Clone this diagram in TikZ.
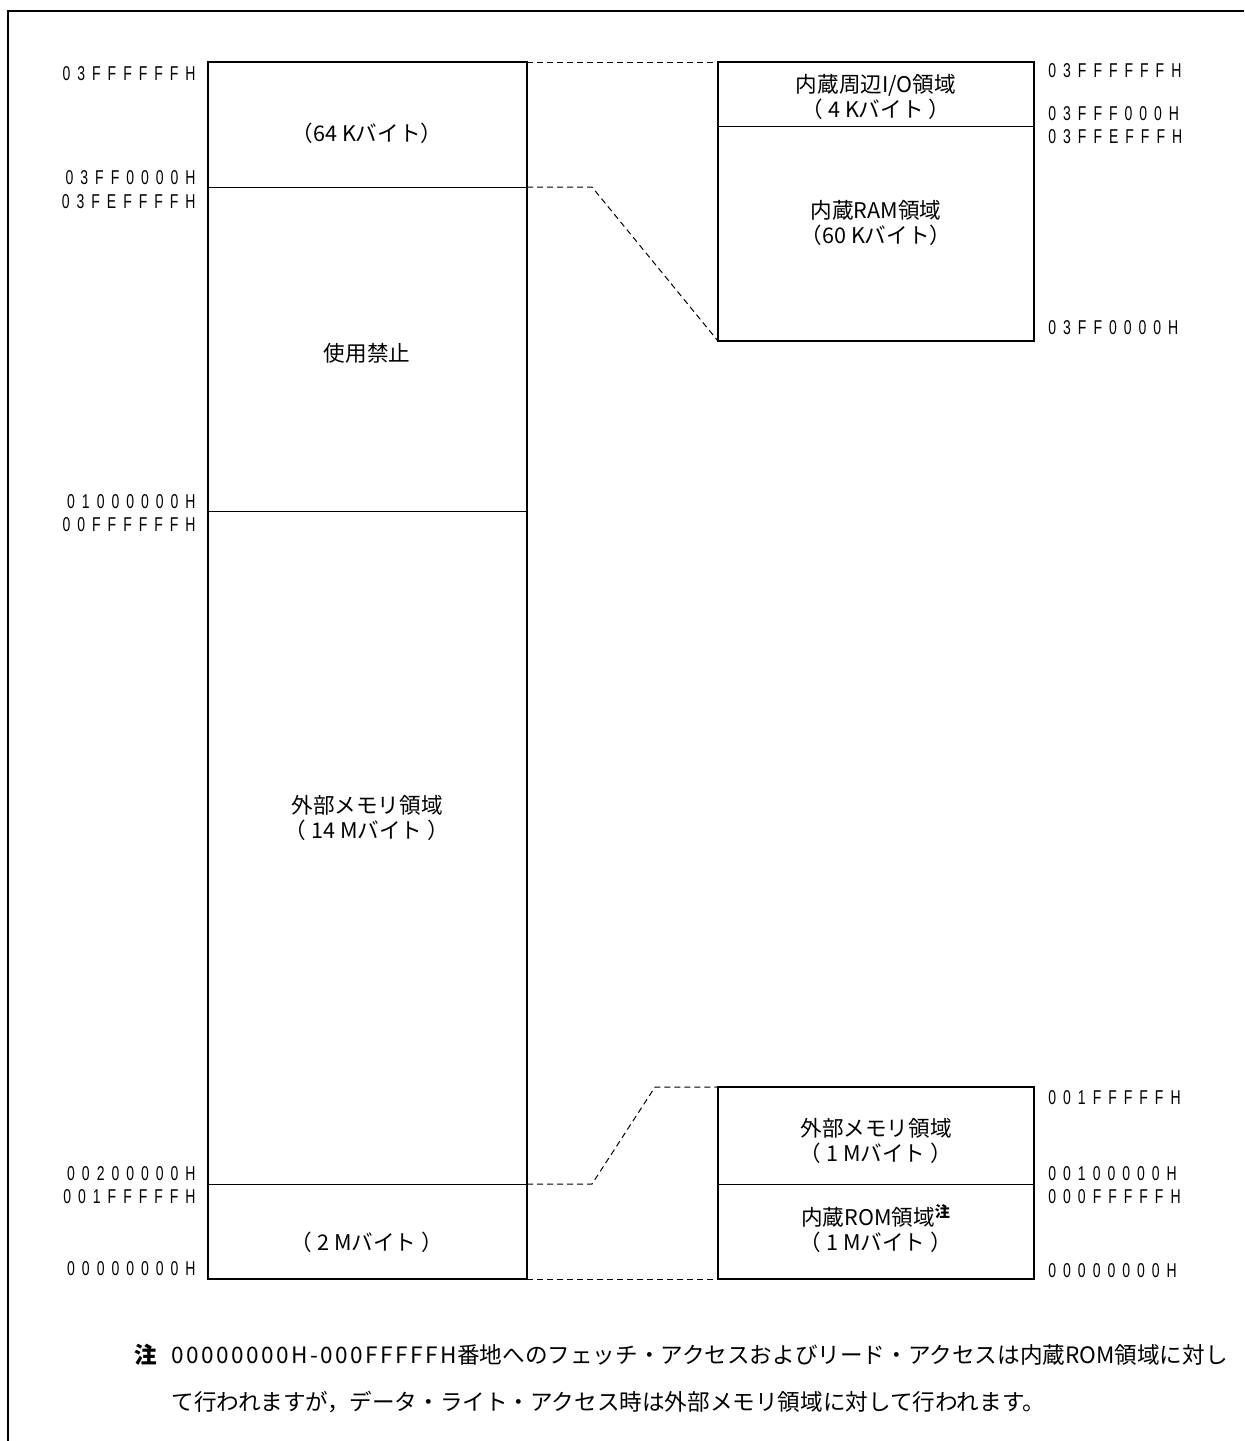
\documentclass[tikz,border=0pt]{standalone}
\usepackage{fontspec}
\setmainfont{Noto Sans CJK JP}
\newfontfamily\addrfont[LetterSpace=35,FakeStretch=0.7]{Liberation Sans}
\newfontfamily\notelatin[LetterSpace=11]{Noto Sans CJK JP}
\usetikzlibrary{positioning}
\tikzset{
  addr/.style={font=\addrfont\fontsize{10}{12}\selectfont, inner sep=0pt},
  addrL/.style={addr, anchor=east},
  addrR/.style={addr, anchor=west},
  area/.style={font=\fontsize{10.8}{12.5}\selectfont, align=center, inner sep=0pt},
  note/.style={font=\fontsize{11.3}{13}\selectfont, anchor=west, inner sep=0pt},
  outline/.style={line width=1pt},
  divider/.style={line width=0.5pt},
  zoomline/.style={dash pattern=on 3pt off 2pt, line width=0.5pt},
}

\begin{document}
\begin{tikzpicture}[x=0.5pt, y=-0.5pt]
\useasboundingbox (0,0) rectangle (1244,1441);
% page frame (cut off at right and bottom)
\draw[outline] (1244,11) -- (8,11) -- (8,1441);

% whole address space
\coordinate (mTL) at (208,62);
\coordinate (mTR) at (527,62);
\coordinate (mBL) at (208,1279);
\coordinate (mBR) at (527,1279);
\coordinate (mRamL) at (208,187);   \coordinate (mRamR) at (527,187);
\coordinate (mResL) at (208,511);   \coordinate (mResR) at (527,511);
\coordinate (mRomL) at (208,1184);  \coordinate (mRomR) at (527,1184);
\draw[divider] (mRamL) -- (mRamR);
\draw[divider] (mResL) -- (mResR);
\draw[divider] (mRomL) -- (mRomR);
\draw[outline] (mTL) rectangle (mBR);

\node[area] (sz64k) at (367,133) {（64 Kバイト）};
\node[area] (resv) at (367,353) {使用禁止};
\node[area] (extmem) at (367,818) {外部メモリ領域\\（ 14 Mバイト ）};
\node[area] (sz2m) at (367,1242) {（ 2 Mバイト ）};

\node[addrL] (aL1) at (196,74) {03FFFFFFH};
\node[addrL] (aL2) at (196,178) {03FF0000H};
\node[addrL] (aL3) at (196,202) {03FEFFFFH};
\node[addrL] (aL4) at (196,502) {01000000H};
\node[addrL] (aL5) at (196,525) {00FFFFFFH};
\node[addrL] (aL6) at (196,1174) {00200000H};
\node[addrL] (aL7) at (196,1197) {001FFFFFH};
\node[addrL] (aL8) at (196,1269) {00000000H};

% internal RAM / peripheral I/O detail
\coordinate (rTL) at (718,62);
\coordinate (rBR) at (1034,341);
\coordinate (rBL) at (718,341);
\coordinate (rIoL) at (718,126);  \coordinate (rIoR) at (1034,126);
\draw[divider] (rIoL) -- (rIoR);
\draw[outline] (rTL) rectangle (rBR);

\node[area] (periio) at (876,97) {内蔵周辺I/O領域\\（ 4 Kバイト ）};
\node[area] (iram) at (876,223) {内蔵RAM領域\\（60 Kバイト）};

\node[addrR] (aR1) at (1048,71) {03FFFFFFH};
\node[addrR] (aR2) at (1048,114) {03FFF000H};
\node[addrR] (aR3) at (1048,137) {03FFEFFFH};
\node[addrR] (aR4) at (1048,328) {03FF0000H};

% internal ROM / external memory detail
\coordinate (bTL) at (718,1087);
\coordinate (bBR) at (1034,1279);
\coordinate (bBL) at (718,1279);
\coordinate (bMidL) at (718,1184);  \coordinate (bMidR) at (1034,1184);
\draw[divider] (bMidL) -- (bMidR);
\draw[outline] (bTL) rectangle (bBR);

\node[area] (ext1m) at (876,1141) {外部メモリ領域\\（ 1 Mバイト ）};
\node[area] (irom) at (876,1229) {内蔵ROM領域\textsuperscript{\textbf{注}}\\（ 1 Mバイト ）};

\node[addrR] (aR5) at (1048,1098) {001FFFFFH};
\node[addrR] (aR6) at (1048,1174) {00100000H};
\node[addrR] (aR7) at (1048,1197) {000FFFFFH};
\node[addrR] (aR8) at (1048,1271) {00000000H};

% zoom lines
\coordinate (kRam) at (592,187);
\coordinate (kRom1) at (592,1184);
\coordinate (kRom2) at (655,1087);
\draw[zoomline] (mTR) -- (rTL);
\draw[zoomline] (mRamR) -- (kRam) -- (rBL);
\draw[zoomline] (mRomR) -- (kRom1) -- (kRom2) -- (bTL);
\draw[zoomline] (mBR) -- (bBL);

% note
\node[note] (noteMark) at (134,1355) {\textbf{注}};
\node[note] (noteA) at (171,1355) {{\notelatin 00000000H-000FFFFFH}番地へのフェッチ・アクセスおよびリード・アクセスは内蔵ROM領域に対し};
\node[note] (noteB) at (171,1402) {て行われますが，データ・ライト・アクセス時は外部メモリ領域に対して行われます。};
\end{tikzpicture}
\end{document}
